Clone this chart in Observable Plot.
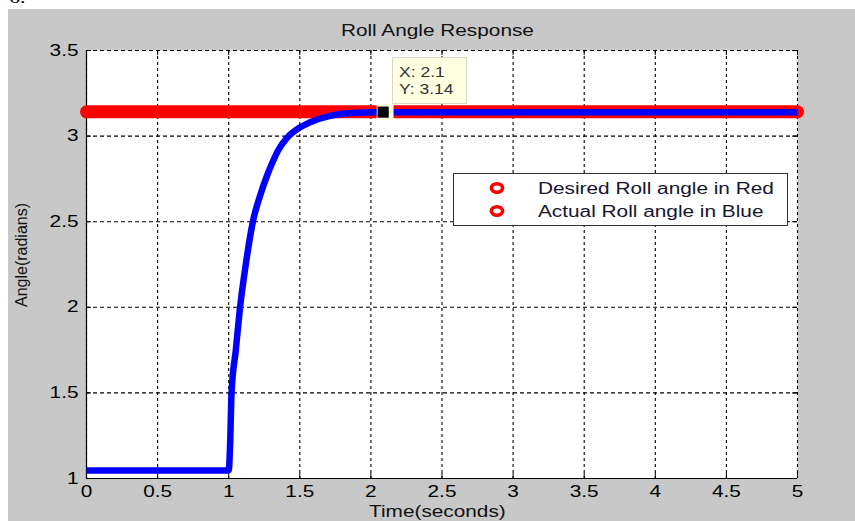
<!DOCTYPE html>
<html>
<head>
<meta charset="utf-8">
<script src="https://cdn.jsdelivr.net/npm/d3@7"></script>
<script src="https://cdn.jsdelivr.net/npm/@observablehq/plot@0.6"></script>
<style>
  html, body { margin: 0; padding: 0; background: #fff; }
  #wrap { position: relative; width: 855px; height: 521px; overflow: hidden; font-family: "Liberation Sans", Arial, sans-serif; }
  #bg { position: absolute; left: 8px; top: 9px; right: 0; bottom: 0; background: #c8c8c8; }
  #plot { position: absolute; left: 0; top: 0; }
  .stretch { position: absolute; white-space: nowrap; transform-origin: 0 0; }
</style>
</head>
<body>
<div id="wrap">
  <div id="bg"></div>
  <div class="stretch" style="left:9px; top:-11px; font: 17px/17px 'Liberation Serif', serif; color:#000; transform:scaleX(1.3);">6.</div>
  <div id="plot"></div>
</div>
<script>
// ---- data ----
const titleText = "Roll Angle Response";
const xLabel = "Time(seconds)";
const yLabel = "Angle(radians)";

const xTicks = [0, 0.5, 1, 1.5, 2, 2.5, 3, 3.5, 4, 4.5, 5];
const xTickLabels = ["0", "0.5", "1", "1.5", "2", "2.5", "3", "3.5", "4", "4.5", "5"];
const yTicks = [1, 1.5, 2, 2.5, 3, 3.5];
const yTickLabels = ["1", "1.5", "2", "2.5", "3", "3.5"];

// desired roll angle (red)
const desiredTime = [0, 5];
const desiredAngle = [3.1416, 3.1416];

// actual roll angle (blue)
const actualTime  = [0, 1.0, 1.01, 1.02, 1.05, 1.08, 1.12, 1.17, 1.22, 1.27, 1.31, 1.35, 1.41, 1.5, 1.6, 1.7, 1.8, 2.0, 2.1, 5.0];
const actualAngle = [1.047, 1.047, 1.2, 1.5, 1.75, 2.0, 2.25, 2.5, 2.65, 2.77, 2.85, 2.92, 2.99, 3.05, 3.09, 3.115, 3.13, 3.14, 3.14, 3.14];

// data tip
const tipX = [2.1];
const tipY = [3.14];
const tipLines = ["X: 2.1", "Y: 3.14"];

// legend
const legendLabels = ["Desired Roll angle in Red", "Actual Roll angle in Blue"];
const legendColors = ["#ff0000", "#ff0000"];

// ---- build tables ----
const desired = desiredTime.map((t, i) => ({t, v: desiredAngle[i]}));
const actual = actualTime.map((t, i) => ({t, v: actualAngle[i]}));
const tip = tipX.map((t, i) => ({t, v: tipY[i]}));

const plot = Plot.plot({
  width: 855,
  height: 521,
  marginLeft: 86,
  marginRight: 58,
  marginTop: 50,
  marginBottom: 43,
  style: {background: "transparent", fontSize: "16px", fontFamily: "'Liberation Sans', Arial, sans-serif", color: "#000"},
  x: {domain: [0, 5], ticks: xTicks, tickSize: 0, tickPadding: 7, label: null,
      tickFormat: d => xTickLabels[xTicks.indexOf(d)]},
  y: {domain: [1, 3.5], ticks: yTicks, tickSize: 0, tickPadding: 8, label: null,
      tickFormat: d => yTickLabels[yTicks.indexOf(d)]},
  marks: [
    Plot.frame({fill: "white", stroke: "none"}),
    Plot.ruleX(xTicks, {stroke: "#000", strokeWidth: 1.1, strokeDasharray: "3,3"}),
    Plot.ruleY(yTicks, {stroke: "#000", strokeWidth: 1.1, strokeDasharray: "4,3"}),
    Plot.ruleX([0], {stroke: "#000", strokeWidth: 1.2}),
    Plot.ruleY([1], {stroke: "#000", strokeWidth: 1.2}),
    Plot.ruleY(yTicks, {x1: 0, x2: 0.035, stroke: "#000"}),
    Plot.ruleY(yTicks, {x1: 4.965, x2: 5, stroke: "#000"}),
    Plot.ruleX(xTicks, {y1: 1, y2: 1.03, stroke: "#000"}),
    Plot.ruleX(xTicks, {y1: 3.47, y2: 3.5, stroke: "#000"}),
    Plot.line(desired, {x: "t", y: "v", stroke: "#ff0000", strokeWidth: 13, strokeLinecap: "round"}),
    Plot.line(actual, {x: "t", y: "v", stroke: "#0000ff", strokeWidth: 6.5, strokeLinecap: "butt", strokeLinejoin: "round", curve: "monotone-x"}),
    Plot.dot(tip, {x: "t", y: "v", symbol: "square", r: 9.5, fill: "#ffffe1", stroke: "none"}),
    Plot.dot(tip, {x: "t", y: "v", symbol: "square", r: 6.3, fill: "#000", stroke: "none", dx: -2}),
    Plot.text([titleText], {frameAnchor: "top", lineAnchor: "middle", textAnchor: "middle", dx: -4.6, dy: -19.4, fontSize: 16, fill: "#111"}),
    Plot.text([xLabel], {frameAnchor: "bottom", lineAnchor: "middle", textAnchor: "middle", dx: -4.6, dy: 33, fontSize: 16, fill: "#111"}),
    Plot.text([yLabel], {frameAnchor: "left", lineAnchor: "middle", textAnchor: "middle", rotate: -90, dx: -64.6, dy: -9.5, fontSize: 16, fill: "#111"})
  ]
});

document.getElementById("plot").appendChild(plot);

// horizontal stretch of the non-rotated texts (the reference is widened)
plot.querySelectorAll("text").forEach(t => {
  const tr = t.getAttribute("transform") || "";
  if (tr.includes("rotate")) return;
  const x = +t.getAttribute("x") || 0;
  const y = +t.getAttribute("y") || 0;
  t.setAttribute("transform", `${tr} translate(${x},${y}) scale(1.3,1) translate(${-x},${-y})`);
});

const wrap = document.getElementById("wrap");
const sx = plot.scale("x"), sy = plot.scale("y");

// data tip box
const px = sx.apply(tipX[0]), py = sy.apply(tipY[0]);
const box = document.createElement("div");
box.style.cssText = `position:absolute; left:${px + 7.5}px; top:${py - 55}px; width:75px; height:47px; background:#ffffe1; border:1px solid #d8d8c8; box-sizing:border-box;`;
wrap.appendChild(box);
tipLines.forEach((s, i) => {
  const d = document.createElement("div");
  d.className = "stretch";
  d.textContent = s;
  d.style.cssText += `left:${px + 14.8}px; top:${py - 46.8 + i * 17.6}px; font-size:14px; line-height:14px; color:#333; transform:scaleX(1.25);`;
  wrap.appendChild(d);
});

// legend
const leg = document.createElement("div");
leg.style.cssText = "position:absolute; left:453px; top:173px; width:335px; height:53px; background:#fff; border:1px solid #333; box-sizing:border-box;";
wrap.appendChild(leg);
legendLabels.forEach((s, i) => {
  const cy = 187.7 + i * 23.4;
  const m = document.createElementNS("http://www.w3.org/2000/svg", "svg");
  m.setAttribute("width", 20); m.setAttribute("height", 16);
  m.style.cssText = `position:absolute; left:${496.7 - 10}px; top:${cy - 8}px;`;
  m.innerHTML = `<ellipse cx="10" cy="8" rx="5.6" ry="4.2" fill="#fff" stroke="${legendColors[i]}" stroke-width="3.6"/>`;
  wrap.appendChild(m);
  const d = document.createElement("div");
  d.className = "stretch";
  d.textContent = s;
  d.style.cssText += `left:538.3px; top:${cy + 6.6 - 13.5}px; font-size:16px; line-height:16px; color:#151530; transform:scaleX(1.3);`;
  wrap.appendChild(d);
});
</script>
</body>
</html>
